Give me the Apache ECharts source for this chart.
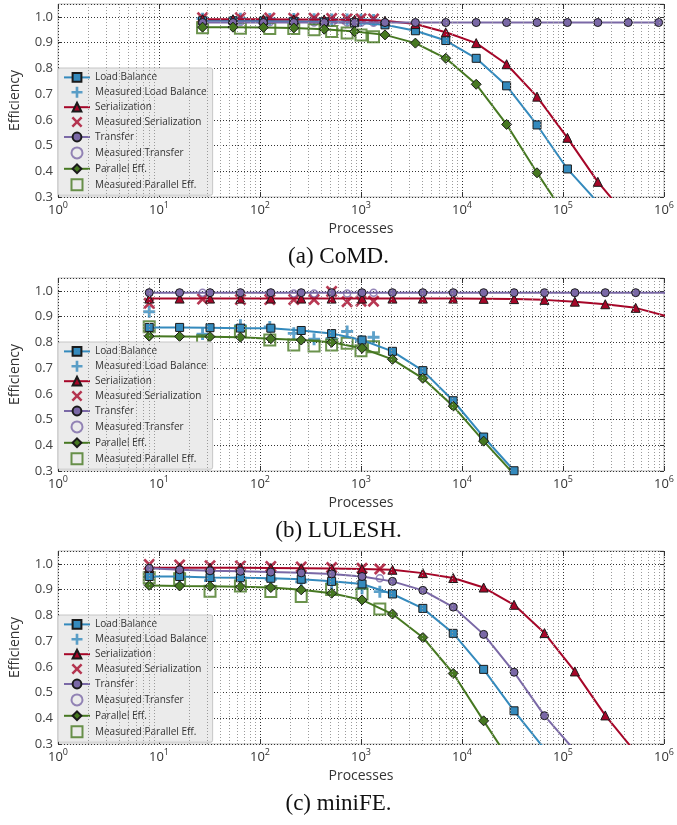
<!DOCTYPE html>
<html>
<head>
<meta charset="utf-8">
<script src="https://cdn.jsdelivr.net/npm/echarts@6/dist/echarts.min.js"></script>
<style>
  html, body { margin: 0; padding: 0; background: #ffffff; }
  #chart { width: 677px; height: 825px; }
</style>
</head>
<body>
<div id="chart"></div>
<script>
// ---------- data ----------
const seriesNames = [
  'Load Balance', 'Measured Load Balance',
  'Serialization', 'Measured Serialization',
  'Transfer', 'Measured Transfer',
  'Parallel Eff.', 'Measured Parallel Eff.'
];
const captions = ['(a) CoMD.', '(b) LULESH.', '(c) miniFE.'];
const xTickExponents = [0, 1, 2, 3, 4, 5, 6];

// CoMD
const comdModelX = [27, 54, 108, 216, 432, 864, 1728, 3456, 6912, 13824, 27648, 55296, 110592, 221184, 442368, 884736];
const comdLoadBalance = [0.985, 0.985, 0.984, 0.983, 0.981, 0.977, 0.969, 0.946, 0.908, 0.839, 0.732, 0.580, 0.409, 0.279];
const comdSerialization = [0.991, 0.991, 0.991, 0.990, 0.990, 0.989, 0.985, 0.972, 0.940, 0.898, 0.816, 0.690, 0.530, 0.359, 0.218];
const comdTransfer = [0.978, 0.978, 0.978, 0.978, 0.978, 0.978, 0.978, 0.978, 0.978, 0.978, 0.978, 0.978, 0.978, 0.978, 0.978, 0.978];
const comdParallel = [0.960, 0.960, 0.959, 0.957, 0.952, 0.943, 0.930, 0.898, 0.839, 0.738, 0.582, 0.394, 0.217];
const comdMeasX = [27, 64, 125, 216, 343, 512, 729, 1000, 1331];
const comdMeasLoadBalance = [0.993, 0.993, 0.992, 0.992, 0.991, 0.990, 0.990, 0.989, 0.988];
const comdMeasSerialization = [0.997, 0.997, 0.996, 0.995, 0.995, 0.994, 0.993, 0.993, 0.992];
const comdMeasTransfer = [0.980, 0.980, 0.979, 0.979, 0.978, 0.978, 0.978, 0.977, 0.977];
const comdMeasParallel = [0.958, 0.956, 0.955, 0.955, 0.950, 0.943, 0.937, 0.930, 0.923];

// LULESH
const lulModelX = [8, 16, 32, 64, 128, 256, 512, 1024, 2048, 4096, 8192, 16384, 32768, 65536, 131072, 262144, 524288, 1048576];
const lulLoadBalance = [0.858, 0.858, 0.857, 0.855, 0.855, 0.846, 0.834, 0.809, 0.765, 0.690, 0.573, 0.432, 0.301];
const lulSerialization = [0.970, 0.970, 0.970, 0.970, 0.970, 0.970, 0.970, 0.970, 0.970, 0.970, 0.970, 0.969, 0.968, 0.965, 0.958, 0.948, 0.934, 0.902];
const lulTransfer = [0.993, 0.993, 0.993, 0.993, 0.993, 0.993, 0.993, 0.993, 0.993, 0.993, 0.993, 0.993, 0.993, 0.993, 0.993, 0.993, 0.993, 0.993];
const lulParallel = [0.824, 0.823, 0.822, 0.820, 0.814, 0.809, 0.800, 0.777, 0.734, 0.660, 0.552, 0.416, 0.287];
const lulMeasX = [8, 27, 64, 125, 216, 343, 512, 729, 1000, 1331];
const lulMeasLoadBalance = [0.919, 0.832, 0.866, 0.860, 0.835, 0.812, 0.815, 0.842, 0.805, 0.820];
const lulMeasSerialization = [0.952, 0.968, 0.966, 0.966, 0.966, 0.966, 0.998, 0.958, 0.960, 0.960];
const lulMeasTransfer = [0.993, 0.993, 0.992, 0.992, 0.990, 0.990, 0.990, 0.990, 0.991, 0.993];
const lulMeasParallel = [0.861, 0.806, 0.841, 0.809, 0.790, 0.786, 0.790, 0.796, 0.767, 0.783];

// miniFE
const mfeModelX = [8, 16, 32, 64, 128, 256, 512, 1024, 2048, 4096, 8192, 16384, 32768, 65536, 131072, 262144, 524288];
const mfeLoadBalance = [0.951, 0.951, 0.947, 0.946, 0.944, 0.940, 0.932, 0.922, 0.883, 0.827, 0.730, 0.590, 0.429, 0.281];
const mfeSerialization = [0.985, 0.985, 0.985, 0.985, 0.984, 0.983, 0.982, 0.980, 0.977, 0.964, 0.945, 0.908, 0.841, 0.731, 0.582, 0.411, 0.267];
const mfeTransfer = [0.983, 0.977, 0.973, 0.971, 0.968, 0.965, 0.961, 0.951, 0.932, 0.897, 0.832, 0.726, 0.579, 0.410, 0.274];
const mfeParallel = [0.916, 0.914, 0.913, 0.911, 0.908, 0.899, 0.886, 0.860, 0.805, 0.714, 0.574, 0.390, 0.210];
const mfeMeasX = [8, 16, 32, 64, 128, 256, 512, 1024, 1536];
const mfeMeasLoadBalance = [0.950, 0.948, 0.935, 0.945, 0.940, 0.930, 0.925, 0.905, 0.892];
const mfeMeasSerialization = [0.998, 0.996, 0.993, 0.992, 0.990, 0.988, 0.986, 0.983, 0.980];
const mfeMeasTransfer = [0.980, 0.976, 0.972, 0.970, 0.966, 0.962, 0.958, 0.950, 0.944];
const mfeMeasParallel = [0.946, 0.942, 0.894, 0.914, 0.893, 0.873, 0.900, 0.883, 0.825];

// ---------- layout & style ----------
const gridTops = [4, 278, 551];
const gridHeight = 193;
const gridLeft = 52;
const gridRight = 9;
const legendTops = [68, 342, 615];
const captionCenters = [258, 532, 805];

const COLORS = {
  lb: '#348ABD',
  ser: '#A60628',
  tr: '#7A68A6',
  pe: '#467821'
};
const EDGE = '#1a1a1a';
const PLUS_PATH = 'path://M3.8,0H6.2V3.8H10V6.2H6.2V10H3.8V6.2H0V3.8H3.8Z';
const CROSS_PATH = 'path://M0,1.6L1.6,0L5,3.4L8.4,0L10,1.6L6.6,5L10,8.4L8.4,10L5,6.6L1.6,10L0,8.4L3.4,5Z';
const SQUARE_PATH = 'path://M0,0H10V10H0Z';
const SANS = 'Open Sans';

const panels = [
  { modelX: comdModelX, measX: comdMeasX,
    lb: comdLoadBalance, ser: comdSerialization, tr: comdTransfer, pe: comdParallel,
    mlb: comdMeasLoadBalance, mser: comdMeasSerialization, mtr: comdMeasTransfer, mpe: comdMeasParallel },
  { modelX: lulModelX, measX: lulMeasX,
    lb: lulLoadBalance, ser: lulSerialization, tr: lulTransfer, pe: lulParallel,
    mlb: lulMeasLoadBalance, mser: lulMeasSerialization, mtr: lulMeasTransfer, mpe: lulMeasParallel },
  { modelX: mfeModelX, measX: mfeMeasX,
    lb: mfeLoadBalance, ser: mfeSerialization, tr: mfeTransfer, pe: mfeParallel,
    mlb: mfeMeasLoadBalance, mser: mfeMeasSerialization, mtr: mfeMeasTransfer, mpe: mfeMeasParallel }
];

// minor vertical grid positions: 2..9 times each decade
const minorGridValues = [];
for (let e = 0; e < 6; e++) {
  for (let m = 2; m <= 9; m++) minorGridValues.push(m * Math.pow(10, e));
}

function pairs(xs, ys) {
  return ys.map((y, i) => [xs[i], y]);
}

function modelSeries(i, name, xs, ys, color, symbol, size) {
  return {
    type: 'line', name: name, xAxisIndex: i, yAxisIndex: i,
    data: pairs(xs, ys),
    symbol: symbol, symbolSize: size, showSymbol: true, showAllSymbol: true,
    clip: true,
    lineStyle: { color: color, width: 2 },
    itemStyle: { color: color, borderColor: EDGE, borderWidth: 1 },
    emphasis: { disabled: true },
    animation: false
  };
}

function measuredSeries(i, name, xs, ys, symbol, size, itemStyle) {
  return {
    type: 'scatter', name: name, xAxisIndex: i, yAxisIndex: i,
    data: pairs(xs, ys),
    symbol: symbol, symbolSize: size,
    clip: true,
    itemStyle: itemStyle,
    emphasis: { disabled: true },
    animation: false
  };
}

const grids = [], xAxes = [], yAxes = [], legends = [], series = [], graphics = [];
const topAxes = [], rightAxes = [];

panels.forEach((p, i) => {
  grids.push({
    left: gridLeft, right: gridRight, top: gridTops[i], height: gridHeight,
    show: true, borderColor: '#bdbdbd', borderWidth: 1, backgroundColor: '#ffffff'
  });
  xAxes.push({
    type: 'log', logBase: 10, min: 1, max: 1000000, gridIndex: i, position: 'bottom',
    name: 'Processes', nameLocation: 'middle', nameGap: 25,
    nameTextStyle: { fontSize: 14, color: '#333', fontFamily: SANS },
    axisLine: { show: false },
    axisTick: { show: true, inside: true, length: 5, lineStyle: { color: '#333' } },
    axisLabel: {
      margin: 4,
      formatter: function (v) {
        const e = Math.round(Math.log(v) / Math.LN10);
        return xTickExponents.indexOf(e) >= 0 ? '{b|10}{s|' + e + '}' : '';
      },
      rich: {
        b: { fontSize: 13, color: '#333', fontFamily: SANS, lineHeight: 16, verticalAlign: 'bottom' },
        s: { fontSize: 9, color: '#333', fontFamily: SANS, lineHeight: 16, verticalAlign: 'top' }
      }
    },
    splitLine: { show: true, lineStyle: { color: '#333', width: 1, type: [1, 2] } }
  });
  yAxes.push({
    type: 'value', min: 0.3, max: 1.05, interval: 0.1, gridIndex: i, position: 'left',
    name: 'Efficiency', nameLocation: 'middle', nameGap: 36,
    nameTextStyle: { fontSize: 14, color: '#333', fontFamily: SANS },
    axisLine: { show: false },
    axisTick: { show: true, inside: true, length: 4, lineStyle: { color: '#333' } },
    axisLabel: {
      margin: 5, fontSize: 13, color: '#444', fontFamily: SANS, showMaxLabel: false,
      formatter: function (v) { return v.toFixed(1); }
    },
    splitLine: { show: true, lineStyle: { color: '#333', width: 1, type: [1, 2] } }
  });
  // mirrored tick marks on the top and right edges of each frame
  topAxes.push({
    type: 'log', logBase: 10, min: 1, max: 1000000, gridIndex: i, position: 'top',
    axisLine: { show: false }, axisLabel: { show: false }, splitLine: { show: false },
    axisTick: { show: true, inside: true, length: 5, lineStyle: { color: '#333' } }
  });
  rightAxes.push({
    type: 'value', min: 0.3, max: 1.05, interval: 0.1, gridIndex: i, position: 'right',
    axisLine: { show: false }, axisLabel: { show: false }, splitLine: { show: false },
    axisTick: { show: true, inside: true, length: 4, lineStyle: { color: '#333' } }
  });

  // minor decade grid lines placed through the log axis
  series.push({
    type: 'line', xAxisIndex: i, yAxisIndex: i, data: [], silent: true, z: 1,
    markLine: {
      silent: true, symbol: 'none', animation: false,
      label: { show: false },
      lineStyle: { color: '#9a9a9a', width: 1, type: [1, 2] },
      data: minorGridValues.map(v => ({ xAxis: v }))
    }
  });

  series.push(modelSeries(i, seriesNames[0], p.modelX, p.lb, COLORS.lb, 'rect', 8));
  series.push(measuredSeries(i, seriesNames[1], p.measX, p.mlb, PLUS_PATH, 12,
    { color: COLORS.lb }));
  series.push(modelSeries(i, seriesNames[2], p.modelX, p.ser, COLORS.ser, 'triangle', 9));
  series.push(measuredSeries(i, seriesNames[3], p.measX, p.mser, CROSS_PATH, 12,
    { color: COLORS.ser }));
  series.push(modelSeries(i, seriesNames[4], p.modelX, p.tr, COLORS.tr, 'circle', 8));
  series.push(measuredSeries(i, seriesNames[5], p.measX, p.mtr, 'circle', 7,
    { color: 'rgba(0,0,0,0)', borderColor: COLORS.tr, borderWidth: 1.5 }));
  series.push(modelSeries(i, seriesNames[6], p.modelX, p.pe, COLORS.pe, 'diamond', 10));
  series.push(measuredSeries(i, seriesNames[7], p.measX, p.mpe, SQUARE_PATH, 11,
    { color: 'rgba(0,0,0,0)', borderColor: COLORS.pe, borderWidth: 2 }));

  legends.push({
    data: seriesNames.map(n => n === 'Measured Parallel Eff.' ? { name: n, icon: SQUARE_PATH } : n),
    orient: 'vertical', left: 58, top: legendTops[i],
    itemWidth: 26, itemHeight: 11, itemGap: 4, padding: [4, 6, 4, 5],
    backgroundColor: '#ebebeb', borderColor: '#c6c6c6', borderWidth: 1, borderRadius: 2,
    selectedMode: false,
    textStyle: { fontSize: 10, color: '#333', fontFamily: SANS }
  });

  graphics.push({
    type: 'text', left: 'center', top: captionCenters[i] - 13,
    style: { text: captions[i], fontSize: 23, fontFamily: 'Liberation Serif', fill: '#111' }
  });
});

const chart = echarts.init(document.getElementById('chart'), null, { renderer: 'canvas' });
chart.setOption({
  animation: false,
  backgroundColor: '#ffffff',
  textStyle: { fontFamily: SANS },
  grid: grids,
  xAxis: xAxes.concat(topAxes),
  yAxis: yAxes.concat(rightAxes),
  legend: legends,
  series: series,
  graphic: graphics
});
</script>
</body>
</html>
